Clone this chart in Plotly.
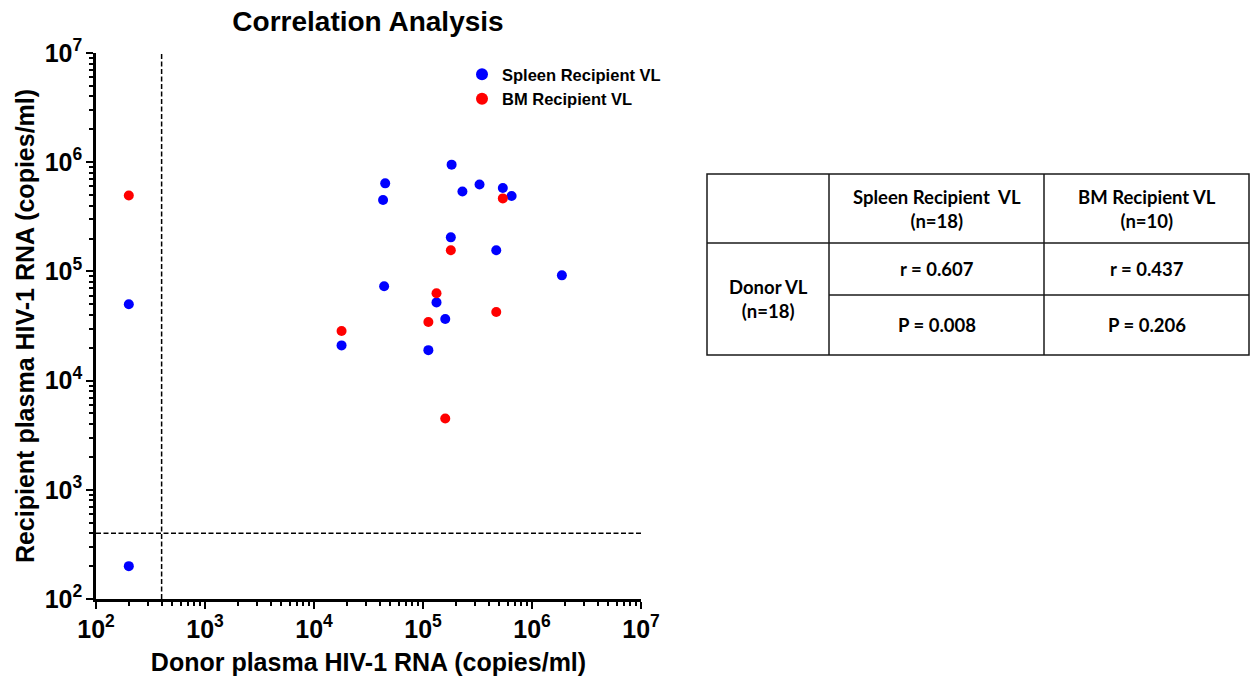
import plotly.graph_objects as go

OFF = 0
FW, FH = 1251, 680

# ---- data (copies/ml) ----
spleen_donor = [200, 200, 4.4e4, 4.3e4, 4.5e4, 1.83e5, 2.3e5, 3.3e5, 5.4e5, 6.5e5,
                1.8e5, 4.7e5, 1.88e6, 1.33e5, 1.6e5, 1.79e4, 1.12e5]
spleen_recip = [200, 5.0e4, 7.3e4, 4.5e5, 6.4e5, 9.5e5, 5.4e5, 6.25e5, 5.8e5, 4.9e5,
                2.05e5, 1.56e5, 9.2e4, 5.2e4, 3.66e4, 2.1e4, 1.9e4]
bm_donor = [200, 5.4e5, 1.8e5, 1.33e5, 1.12e5, 1.79e4, 4.7e5, 1.6e5]
bm_recip = [4.95e5, 4.66e5, 1.56e5, 6.3e4, 3.44e4, 2.85e4, 4.25e4, 4.5e3]
LOD = 400
axis_min, axis_max = 1e2, 1e7

table_header = ["", "Spleen Recipient  VL<br>(n=18)", "BM Recipient VL<br>(n=10)"]
row_label = "Donor VL<br>(n=18)"
r_values = ["r = 0.607", "r = 0.437"]
p_values = ["P = 0.008", "P = 0.206"]

FONT = "Liberation Sans, Arial, sans-serif"
TFONT = "Lato, Open Sans, sans-serif"


def px(v):
    return (v - OFF) / FW


def py(v):
    return 1 - (v - OFF) / FH


fig = go.Figure()
# LOD dashed lines
dash_line = dict(color="black", width=1.5, dash="5px,2.5px")
fig.add_trace(go.Scatter(x=[LOD, LOD], y=[axis_min, axis_max], mode="lines",
                         line=dash_line, showlegend=False, hoverinfo="skip"))
fig.add_trace(go.Scatter(x=[axis_min, axis_max], y=[LOD, LOD], mode="lines",
                         line=dash_line, showlegend=False, hoverinfo="skip"))
fig.add_trace(go.Scatter(x=spleen_donor, y=spleen_recip, mode="markers",
                         name="Spleen Recipient VL",
                         marker=dict(color="#0000FF", size=10, line=dict(width=0))))
fig.add_trace(go.Scatter(x=bm_donor, y=bm_recip, mode="markers",
                         name="BM Recipient VL",
                         marker=dict(color="#FF0000", size=10, line=dict(width=0))))

x0, x1 = 96, 641
y0, y1 = 53, 599

axis_common = dict(
    type="log", range=[2, 7], dtick=1, exponentformat="power",
    showgrid=False, zeroline=False, showline=True, linecolor="black", linewidth=2.5,
    ticks="outside", ticklen=7, tickwidth=2, tickcolor="black",
    tickfont=dict(family=FONT, size=20, color="black", weight="bold"),
    minor=dict(ticks="outside", ticklen=4, tickwidth=2, tickcolor="black",
               dtick="D1", showgrid=False),
    automargin=False,
)

fig.update_layout(
    width=FW, height=FH,
    margin=dict(l=0, r=0, t=0, b=0),
    paper_bgcolor="white", plot_bgcolor="white",
    title=dict(text="Correlation Analysis", x=px(368), y=py(21),
               xanchor="center", yanchor="middle",
               font=dict(family=FONT, size=28, color="black", weight="bold")),
    xaxis=dict(domain=[px(x0), px(x1)],
               title=dict(text="Donor plasma HIV-1 RNA (copies/ml)", standoff=12,
                          font=dict(family=FONT, size=25, color="black", weight="bold")),
               **axis_common),
    yaxis=dict(domain=[py(y1), py(y0)],
               title=dict(text="Recipient plasma HIV-1 RNA (copies/ml)", standoff=3,
                          font=dict(family=FONT, size=25, color="black", weight="bold")),
               **axis_common),
    legend=dict(x=px(462), y=py(57), xanchor="left", yanchor="top",
                bgcolor="rgba(0,0,0,0)",
                font=dict(family=FONT, size=16.5, color="black", weight="bold"),
                itemsizing="constant", tracegroupgap=0),
    showlegend=True,
)

# ---- table ----
cx = [707, 829, 1044, 1249]
cy = [174, 243, 295, 355]

line_style = dict(color="#1a1a1a", width=1.5)
shapes = []
shapes.append(dict(type="rect", xref="paper", yref="paper", x0=px(cx[0]), x1=px(cx[3]),
                   y0=py(cy[0]), y1=py(cy[3]), line=line_style))
for c in cx[1:3]:
    shapes.append(dict(type="line", xref="paper", yref="paper", x0=px(c), x1=px(c),
                       y0=py(cy[0]), y1=py(cy[3]), line=line_style))
shapes.append(dict(type="line", xref="paper", yref="paper", x0=px(cx[0]), x1=px(cx[3]),
                   y0=py(cy[1]), y1=py(cy[1]), line=line_style))
shapes.append(dict(type="line", xref="paper", yref="paper", x0=px(cx[1]), x1=px(cx[3]),
                   y0=py(cy[2]), y1=py(cy[2]), line=line_style))
fig.update_layout(shapes=shapes)

tfont = dict(family=TFONT, size=18.5, color="black", weight="bold")


def cell(text, xa, xb, ya, yb):
    fig.add_annotation(text=text, xref="paper", yref="paper",
                       x=px((xa + xb) / 2), y=py((ya + yb) / 2),
                       xanchor="center", yanchor="middle", showarrow=False,
                       font=tfont, align="center")


for i in (1, 2):
    cell(table_header[i], cx[i], cx[i + 1], cy[0], cy[1])
    cell(r_values[i - 1], cx[i], cx[i + 1], cy[1], cy[2])
    cell(p_values[i - 1], cx[i], cx[i + 1], cy[2], cy[3])
cell(row_label, cx[0], cx[1], cy[1], cy[3])

fig.write_html("out.html", config={"displayModeBar": False},
               post_script="document.body.style.margin='0';document.body.style.overflow='hidden';")
